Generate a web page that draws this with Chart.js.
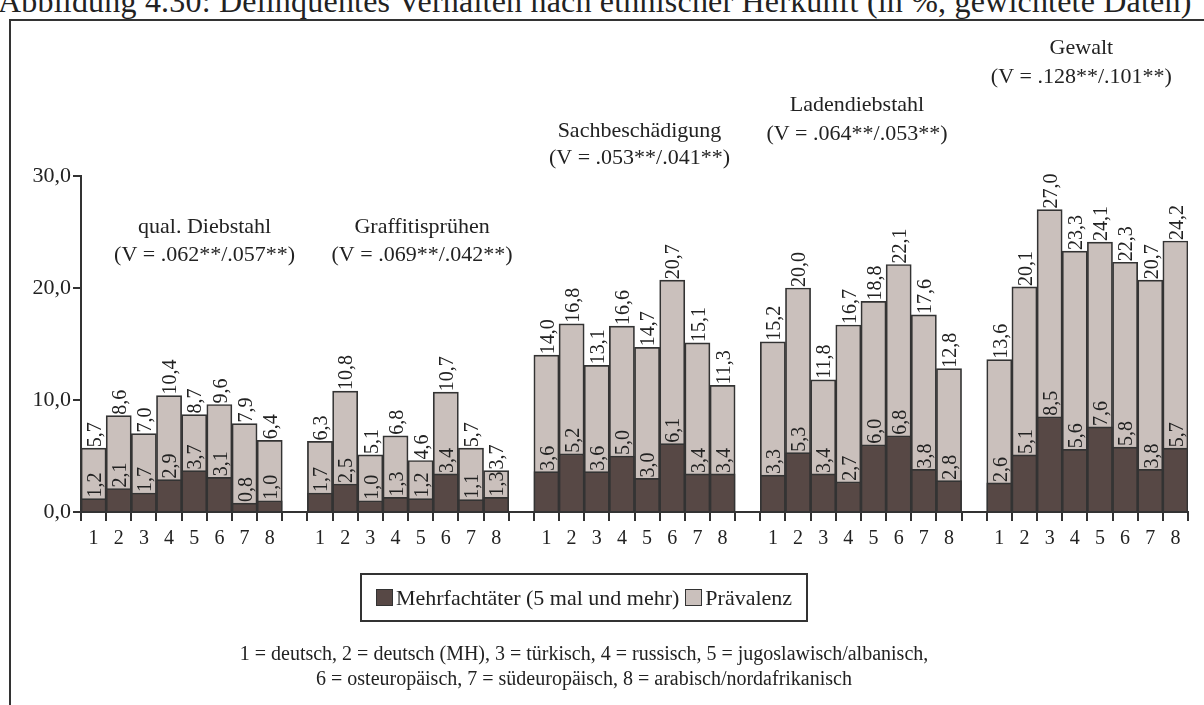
<!DOCTYPE html>
<html>
<head>
<meta charset="utf-8">
<script src="https://cdn.jsdelivr.net/npm/chart.js@4.4.1/dist/chart.umd.min.js"></script>
<style>
    html, body { margin: 0; padding: 0; background: #fff; overflow: hidden; }
    #wrap { position: relative; width: 1204px; height: 705px; font-family: "Liberation Serif", "DejaVu Serif", serif; color: #222; }
    #chart { position: absolute; left: 0; top: 0; }
    .title { position: absolute; left: -2px; top: -17px; font-size: 32px; letter-spacing: 0.2px; white-space: nowrap; }
    .frame { position: absolute; left: 9px; top: 19px; width: 1300px; height: 800px; border-left: 2px solid #333; border-top: 2px solid #333; }
    .legend { position: absolute; left: 360px; top: 573px; width: 444px; height: 45px; border: 2px solid #333;
              display: flex; align-items: center; justify-content: center; font-size: 22px; white-space: nowrap; }
    .legend .box { display: inline-block; width: 15px; height: 15px; border: 1.5px solid #333; margin-right: 3px; }
    .legend .item { display: flex; align-items: center; margin: 0 3px; }
    .note { position: absolute; left: 0; width: 1168px; text-align: center; font-size: 20px; white-space: nowrap; }
</style>
</head>
<body>
<div id="wrap">
    <div class="title">Abbildung 4.30: Delinquentes Verhalten nach ethnischer Herkunft (in %, gewichtete Daten)</div>
    <div class="frame"></div>
    <canvas id="chart" width="1204" height="705"></canvas>
    <div class="legend" id="legend"></div>
    <div class="note" style="top:642px">1 = deutsch, 2 = deutsch (MH), 3 = türkisch, 4 = russisch, 5 = jugoslawisch/albanisch,</div>
    <div class="note" style="top:667px">6 = osteuropäisch, 7 = südeuropäisch, 8 = arabisch/nordafrikanisch</div>
</div>
<script>
// === Daten ===
var delikte = ['qual. Diebstahl', 'Graffitisprühen', 'Sachbeschädigung', 'Ladendiebstahl', 'Gewalt'];
var cramerV = ['(V = .062**/.057**)', '(V = .069**/.042**)', '(V = .053**/.041**)', '(V = .064**/.053**)', '(V = .128**/.101**)'];
var herkunft = ['1', '2', '3', '4', '5', '6', '7', '8'];
var yTicks = [0, 10, 20, 30];

var praevalenzDiebstahl = [5.7, 8.6, 7.0, 10.4, 8.7, 9.6, 7.9, 6.4];
var praevalenzGraffiti = [6.3, 10.8, 5.1, 6.8, 4.6, 10.7, 5.7, 3.7];
var praevalenzSach = [14.0, 16.8, 13.1, 16.6, 14.7, 20.7, 15.1, 11.3];
var praevalenzLaden = [15.2, 20.0, 11.8, 16.7, 18.8, 22.1, 17.6, 12.8];
var praevalenzGewalt = [13.6, 20.1, 27.0, 23.3, 24.1, 22.3, 20.7, 24.2];

var mehrfachDiebstahl = [1.2, 2.1, 1.7, 2.9, 3.7, 3.1, 0.8, 1.0];
var mehrfachGraffiti = [1.7, 2.5, 1.0, 1.3, 1.2, 3.4, 1.1, 1.3];
var mehrfachSach = [3.6, 5.2, 3.6, 5.0, 3.0, 6.1, 3.4, 3.4];
var mehrfachLaden = [3.3, 5.3, 3.4, 2.7, 6.0, 6.8, 3.8, 2.8];
var mehrfachGewalt = [2.6, 5.1, 8.5, 5.6, 7.6, 5.8, 3.8, 5.7];

var praevalenz = [praevalenzDiebstahl, praevalenzGraffiti, praevalenzSach, praevalenzLaden, praevalenzGewalt];
var mehrfach = [mehrfachDiebstahl, mehrfachGraffiti, mehrfachSach, mehrfachLaden, mehrfachGewalt];

// Beschriftung der Delikte: Lage (y in Skaleneinheiten, x-Versatz in px)
var gruppenText = [
    { dx: 23, y1: 25.4, y2: 22.9 },
    { dx: 14, y1: 25.4, y2: 22.9 },
    { dx: 5, y1: 34.0, y2: 31.6 },
    { dx: -4, y1: 36.3, y2: 33.7 },
    { dx: -6, y1: 41.4, y2: 38.8 }
];

var DARK = '#574845';
var LIGHT = '#cac0bc';
var LINE = '#333333';
var FONT = '"Liberation Serif", "DejaVu Serif", serif';

// flache Kategorien mit leerer Lücke zwischen den Gruppen
var labels = [], dataPrae = [], dataMehr = [], gruppenStart = [];
delikte.forEach(function(d, g) {
    gruppenStart.push(labels.length);
    herkunft.forEach(function(h, i) {
        labels.push(h);
        dataPrae.push(praevalenz[g][i]);
        dataMehr.push(mehrfach[g][i]);
    });
    if (g < delikte.length - 1) {
        labels.push('');
        dataPrae.push(null);
        dataMehr.push(null);
    }
});

function komma(v) { return v.toFixed(1).replace('.', ','); }

var labelPlugin = {
    id: 'werte',
    afterDatasetsDraw: function(chart) {
        var ctx = chart.ctx;
        ctx.save();
        ctx.fillStyle = '#222';
        ctx.font = '20px ' + FONT;
        chart.data.datasets.forEach(function(ds, di) {
            var meta = chart.getDatasetMeta(di);
            meta.data.forEach(function(bar, i) {
                var v = ds.data[i];
                if (v == null) return;
                ctx.save();
                ctx.translate(bar.x + 2, bar.y - 1);
                ctx.rotate(-Math.PI / 2);
                ctx.textAlign = 'left';
                ctx.textBaseline = 'middle';
                ctx.fillText(komma(v), 0, 0);
                ctx.restore();
            });
        });
        // Delikt-Überschriften
        var xs = chart.scales.x, ys = chart.scales.y;
        ctx.textAlign = 'center';
        ctx.textBaseline = 'middle';
        ctx.font = '22px ' + FONT;
        delikte.forEach(function(d, g) {
            var s = gruppenStart[g];
            var cx = (xs.getPixelForValue(s) + xs.getPixelForValue(s + 7)) / 2 + gruppenText[g].dx;
            ctx.fillText(d, cx, ys.getPixelForValue(gruppenText[g].y1));
            ctx.fillText(cramerV[g], cx, ys.getPixelForValue(gruppenText[g].y2));
        });
        ctx.restore();
    }
};

var chart = new Chart(document.getElementById('chart').getContext('2d'), {
    type: 'bar',
    data: {
        labels: labels,
        datasets: [
            {
                label: 'Mehrfachtäter (5 mal und mehr)',
                data: dataMehr,
                backgroundColor: DARK,
                borderColor: LINE,
                borderWidth: 1.7,
                order: 0
            },
            {
                label: 'Prävalenz',
                data: dataPrae,
                backgroundColor: LIGHT,
                borderColor: LINE,
                borderWidth: 1.7,
                order: 1
            }
        ]
    },
    options: {
        responsive: false,
        animation: false,
        barPercentage: 1,
        categoryPercentage: 1,
        layout: { padding: { left: 0, top: 176, right: 16, bottom: 0 } },
        plugins: {
            legend: { display: false },
            tooltip: { enabled: false }
        },
        scales: {
            x: {
                stacked: true,
                afterFit: function(s) { s.height = 193; },
                grid: { offset: true, drawOnChartArea: false, color: LINE, lineWidth: 2, tickLength: 9 },
                border: { color: LINE, width: 2 },
                ticks: { autoSkip: false, maxRotation: 0, color: '#222', padding: 6, font: { family: FONT, size: 20 } }
            },
            y: {
                stacked: false,
                min: 0,
                max: 30,
                afterFit: function(s) { s.width = 81; },
                afterBuildTicks: function(s) { s.ticks = yTicks.map(function(v) { return { value: v }; }); },
                grid: { drawOnChartArea: false, color: LINE, lineWidth: 2, tickLength: 8 },
                border: { color: LINE, width: 2 },
                ticks: { color: '#222', padding: 2, font: { family: FONT, size: 22 }, callback: function(v) { return komma(v); } }
            }
        }
    },
    plugins: [labelPlugin]
});

// Legende
var legend = document.getElementById('legend');
chart.data.datasets.forEach(function(ds) {
    var item = document.createElement('span');
    item.className = 'item';
    var box = document.createElement('span');
    box.className = 'box';
    box.style.background = ds.backgroundColor;
    item.appendChild(box);
    item.appendChild(document.createTextNode(ds.label));
    legend.appendChild(item);
});
</script>
</body>
</html>
